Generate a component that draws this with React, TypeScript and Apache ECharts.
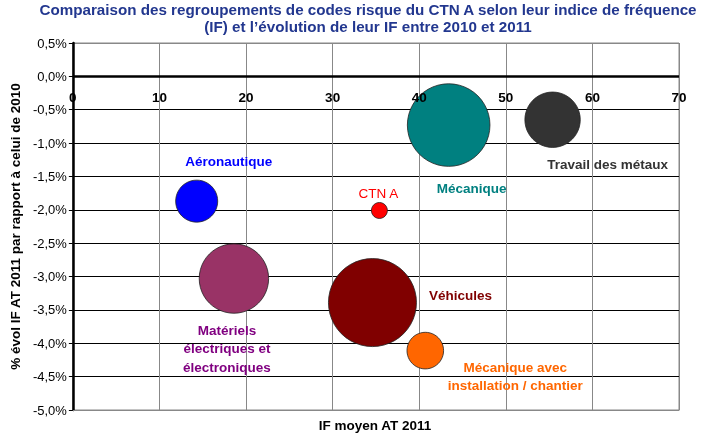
import React, { useEffect, useRef } from "react";
import * as echarts from "echarts";

const titleLines = [
  "Comparaison des regroupements de codes risque du CTN A selon leur indice de fréquence",
  "(IF) et l’évolution de leur IF entre 2010 et 2011",
];
const xAxisName = "IF moyen AT 2011";
const yAxisName = "% évol IF AT 2011 par rapport à celui de 2010";

const categories = [
  "Aéronautique",
  "CTN A",
  "Matériels\nélectriques et\nélectroniques",
  "Véhicules",
  "Mécanique avec\ninstallation / chantier",
  "Mécanique",
  "Travail des métaux",
];
const ifMoyen = [14.3, 35.4, 18.6, 34.6, 40.7, 43.4, 55.4];
const evolIF = [-1.87, -2.01, -3.03, -3.39, -4.11, -0.73, -0.65];
const taille = [22.8, 3.3, 62.2, 100, 17.3, 88.1, 39.6];
const bubbleColors = ["#0000FF", "#FF0000", "#993366", "#800000", "#FF6600", "#008080", "#333333"];
const labelColors = ["#0000FF", "#FF0000", "#800080", "#800000", "#FF6600", "#008080", "#333333"];
const labelOffsets = [
  [32, -40],
  [-1, -17],
  [-7, 70],
  [88, -7],
  [90, 26],
  [23, 63],
  [55, 45],
];
const labelBold = [true, false, true, true, true, true, true];

const FONT = '"Liberation Sans", Arial, sans-serif';

export default function App() {
  const ref = useRef<HTMLDivElement>(null);
  useEffect(() => {
    if (!ref.current) return;
    const chart = echarts.init(ref.current, null, { renderer: "svg" });
    const data = categories.map((name, i) => ({
      name,
      value: [ifMoyen[i], evolIF[i], taille[i]],
      itemStyle: { color: bubbleColors[i], borderColor: "#222", borderWidth: 0.8, opacity: 1 },
      label: {
        show: true,
        position: "inside",
        offset: labelOffsets[i],
        formatter: name,
        color: labelColors[i],
        fontFamily: FONT,
        fontSize: 13.5,
        fontWeight: labelBold[i] ? "bold" : "normal",
        lineHeight: 18.5,
        align: "center",
      },
    }));
    const yLineColors: string[] = [];
    for (let i = 0; i < 12; i++) yLineColors.push(i === 0 || i === 11 ? "#888888" : "#000000");
    chart.setOption({
      animation: false,
      textStyle: { fontFamily: FONT },
      graphic: [
        {
          type: "text",
          x: 368,
          y: 1,
          style: {
            text: titleLines.join("\n"),
            fill: "#22378f",
            font: `bold 15.2px ${FONT}`,
            textAlign: "center",
            lineHeight: 17,
          },
        },
        {
          type: "text",
          x: 375,
          y: 425,
          style: {
            text: xAxisName,
            fill: "#000",
            font: `bold 13.5px ${FONT}`,
            textAlign: "center",
            textVerticalAlign: "middle",
          },
        },
      ],
      grid: { left: 72.5, right: 32, top: 43, bottom: 35, show: true, borderColor: "#888888", borderWidth: 1 },
      xAxis: [
        {
          type: "value",
          min: 0,
          max: 70,
          interval: 10,
          z: 0,
          axisLine: { onZero: false, lineStyle: { color: "#888888", width: 1 } },
          axisTick: { show: false },
          axisLabel: { show: false },
          splitLine: { show: true, lineStyle: { color: "#888888", width: 1 } },
        },
        {
          type: "value",
          position: "bottom",
          min: 0,
          max: 70,
          interval: 10,
          z: 5,
          axisLine: { show: false, onZero: false },
          axisTick: { show: false },
          axisLabel: { color: "#000", fontWeight: "bold", fontSize: 13.5, margin: -320, fontFamily: FONT },
          splitLine: { show: false },
        },
      ],
      yAxis: {
        type: "value",
        min: -5,
        max: 0.5,
        interval: 0.5,
        name: yAxisName,
        nameLocation: "middle",
        nameRotate: 90,
        nameGap: 48,
        nameTextStyle: { color: "#000", fontWeight: "bold", fontSize: 13.5, fontFamily: FONT },
        axisLine: { onZero: false, lineStyle: { color: "#000", width: 2.5 } },
        axisTick: { show: true, length: 4, lineStyle: { color: "#000", width: 1 } },
        axisLabel: {
          color: "#000",
          fontSize: 13,
          margin: 6,
          fontFamily: FONT,
          formatter: (v: number) => (Math.abs(v) < 1e-9 ? 0 : v).toFixed(1).replace(".", ",") + "%",
        },
        splitLine: { show: true, lineStyle: { color: yLineColors, width: 1 } },
      },
      series: [
        {
          type: "scatter",
          z: 2,
          xAxisIndex: 0,
          data,
          symbolSize: (val: number[]) => 88 * Math.sqrt(val[2] / 100),
          emphasis: { disabled: true },
          markLine: {
            silent: true,
            symbol: "none",
            label: { show: false },
            lineStyle: { color: "#000", width: 2.5, type: "solid" },
            data: [{ yAxis: 0 }],
          },
        },
      ],
    });
    return () => chart.dispose();
  }, []);
  return <div ref={ref} style={{ position: "fixed", left: 0, top: 0, width: 711, height: 445 }} />;
}
